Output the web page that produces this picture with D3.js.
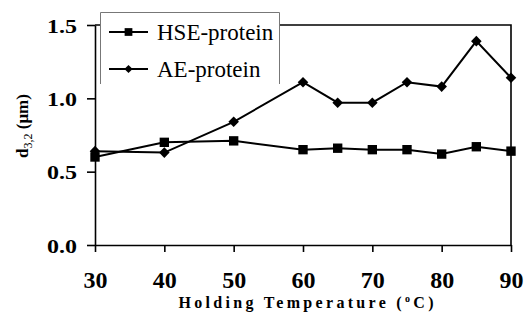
<!DOCTYPE html>
<html>
<head>
<meta charset="utf-8">
<script src="https://cdn.jsdelivr.net/npm/d3@7"></script>
<style>
  body { margin: 0; background: #fff; }
  .axis path, .axis line { stroke: #000; stroke-width: 1.6; }
  .axis text { fill: #000; }
</style>
</head>
<body>
<div id="chart"></div>
<script>
const temps = [30, 40, 50, 60, 65, 70, 75, 80, 85, 90];
const hseProtein = [0.60, 0.70, 0.71, 0.65, 0.66, 0.65, 0.65, 0.62, 0.67, 0.64];
const aeProtein = [0.64, 0.63, 0.84, 1.11, 0.97, 0.97, 1.11, 1.08, 1.39, 1.14];
const xTicks = [30, 40, 50, 60, 70, 80, 90];
const yTicks = [0, 0.5, 1.0, 1.5];
const seriesNames = ['HSE-protein', 'AE-protein'];

const FONT = "'Liberation Serif'";

const W = 524, H = 335;
const margin = { top: 25, right: 13, bottom: 90, left: 95 };
const width = W - margin.left - margin.right;
const height = H - margin.top - margin.bottom;

const svg = d3.select('#chart').append('svg')
  .attr('width', W)
  .attr('height', H)
  .style('font-family', FONT);

const g = svg.append('g')
  .attr('transform', `translate(${margin.left},${margin.top})`);

const x = d3.scaleLinear().domain([30, 90]).range([0, width]);
const y = d3.scaleLinear().domain([0, 1.5]).range([height, 0]);

// Frame (top + right)
g.append('path')
  .attr('d', `M0,0H${width}V${height}`)
  .attr('fill', 'none')
  .attr('stroke', '#000')
  .attr('stroke-width', 1.6);

// Axes
g.append('g')
  .attr('class', 'axis')
  .call(d3.axisLeft(y).tickValues(yTicks).tickSize(8).tickSizeOuter(0).tickPadding(10).tickFormat(d3.format('.1f')))
  .attr('font-family', null)
  .selectAll('text')
  .style('font-family', FONT)
  .style('font-size', '18px')
  .style('font-weight', 'bold')
  .attr('dy', '0.4em')
  .attr('textLength', 30)
  .attr('lengthAdjust', 'spacingAndGlyphs');

g.append('g')
  .attr('class', 'axis')
  .attr('transform', `translate(0,${height})`)
  .call(d3.axisBottom(x).tickValues(xTicks).tickSize(7).tickSizeOuter(0).tickPadding(19))
  .attr('font-family', null)
  .selectAll('text')
  .style('font-family', FONT)
  .style('font-size', '24px')
  .style('font-weight', 'bold');

// Series
const square = d3.symbol().type(d3.symbolSquare);
const lineGen = d3.line()
  .x((d, i) => x(temps[i]))
  .y(d => y(d));

function drawSeries(values, symbolPath, rotate) {
  g.append('path')
    .datum(values)
    .attr('fill', 'none')
    .attr('stroke', '#000')
    .attr('stroke-width', 2)
    .attr('d', lineGen);
  g.append('g').selectAll('path')
    .data(values)
    .join('path')
    .attr('d', symbolPath)
    .attr('fill', '#000')
    .attr('transform', (d, i) => `translate(${x(temps[i])},${y(d)}) rotate(${rotate})`);
}

drawSeries(aeProtein, square.size(56)(), 45);
drawSeries(hseProtein, square.size(88)(), 0);

// Legend
const legend = svg.append('g').attr('transform', 'translate(100,12)');
legend.append('rect')
  .attr('width', 180)
  .attr('height', 72)
  .attr('fill', '#fff');
legend.append('path')
  .attr('d', 'M0.5,72V0.5H179.5V72')
  .attr('fill', 'none')
  .attr('stroke', '#777')
  .attr('stroke-width', 1);

const legendRows = [
  { name: seriesNames[0], sym: square.size(60)(), rot: 0, y: 20 },
  { name: seriesNames[1], sym: square.size(34)(), rot: 45, y: 57 }
];
legendRows.forEach(r => {
  legend.append('line')
    .attr('x1', 9).attr('x2', 48)
    .attr('y1', r.y).attr('y2', r.y)
    .attr('stroke', '#000').attr('stroke-width', 2);
  legend.append('path')
    .attr('d', r.sym)
    .attr('transform', `translate(28.5,${r.y}) rotate(${r.rot})`)
    .attr('fill', '#000');
  legend.append('text')
    .attr('x', 57)
    .attr('y', r.y + 7.5)
    .style('font-family', FONT)
    .style('font-size', '23px')
    .text(r.name);
});

// Axis titles
const xTitle = svg.append('text')
  .attr('x', 306)
  .attr('y', 308)
  .attr('text-anchor', 'middle')
  .attr('textLength', 255)
  .attr('lengthAdjust', 'spacing')
  .style('font-family', FONT)
  .style('font-size', '16px')
  .style('font-weight', 'bold');
xTitle.append('tspan').text('Holding Temperature (');
xTitle.append('tspan').attr('dy', -6).style('font-size', '10px').text('o');
xTitle.append('tspan').attr('dy', 6).text('C)');

const yTitle = svg.append('text')
  .attr('transform', 'translate(28,126) rotate(-90)')
  .attr('text-anchor', 'middle')
  .style('font-family', FONT)
  .style('font-size', '17px')
  .style('font-weight', 'bold');
yTitle.append('tspan').text('d');
yTitle.append('tspan').attr('dy', 4).style('font-size', '12px').style('font-weight', 'normal').text('3,2');
yTitle.append('tspan').attr('dy', -4).text(' (μm)');
</script>
</body>
</html>
